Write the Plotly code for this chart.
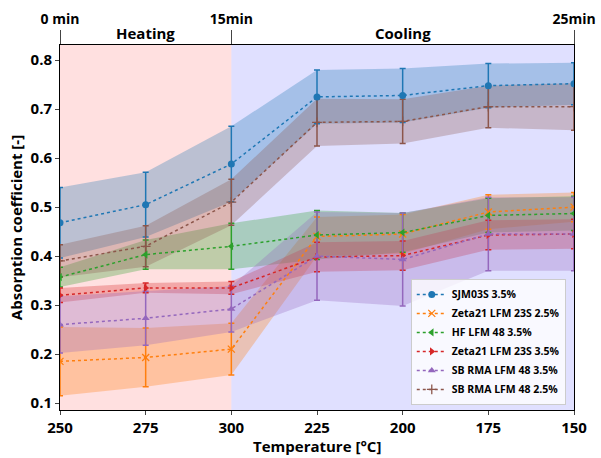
import plotly.graph_objects as go

temps = ["250", "275", "300", "225", "200", "175", "150"]
names = ["SJM03S 3.5%", "Zeta21 LFM 23S 2.5%", "HF LFM 48 3.5%",
         "Zeta21 LFM 23S 3.5%", "SB RMA LFM 48 3.5%", "SB RMA LFM 48 2.5%"]

sjm_mean = [0.468, 0.505, 0.588, 0.725, 0.728, 0.748, 0.752]
sjm_std = [0.072, 0.066, 0.077, 0.055, 0.055, 0.045, 0.043]
z25_mean = [0.185, 0.193, 0.210, 0.440, 0.445, 0.490, 0.500]
z25_std = [0.070, 0.060, 0.053, 0.040, 0.040, 0.035, 0.030]
hf_mean = [0.357, 0.403, 0.420, 0.443, 0.448, 0.483, 0.487]
hf_std = [0.020, 0.030, 0.047, 0.050, 0.040, 0.035, 0.035]
z35_mean = [0.320, 0.335, 0.335, 0.398, 0.401, 0.443, 0.445]
z35_std = [0.015, 0.010, 0.013, 0.030, 0.030, 0.030, 0.030]
sb35_mean = [0.260, 0.273, 0.292, 0.400, 0.393, 0.445, 0.445]
sb35_std = [0.058, 0.055, 0.047, 0.090, 0.095, 0.075, 0.075]
sb25_mean = [0.390, 0.420, 0.510, 0.673, 0.675, 0.705, 0.705]
sb25_std = [0.033, 0.042, 0.047, 0.048, 0.045, 0.043, 0.048]

top_ticks = ["0 min", "15min", "25min"]
phases = ["Heating", "Cooling"]

means = [sjm_mean, z25_mean, hf_mean, z35_mean, sb35_mean, sb25_mean]
stds = [sjm_std, z25_std, hf_std, z35_std, sb35_std, sb25_std]
colors = ["31,119,180", "255,127,14", "44,160,44", "214,39,40", "148,103,189", "140,86,75"]
symbols = ["circle", "x-thin", "triangle-left", "triangle-right", "triangle-up", "cross-thin"]

xs = list(range(len(temps)))
fig = go.Figure()

for m, s, c in zip(means, stds, colors):
    up = [a + b for a, b in zip(m, s)]
    lo = [a - b for a, b in zip(m, s)]
    fig.add_trace(go.Scatter(x=xs, y=up, mode="lines", line=dict(width=0),
                             showlegend=False, hoverinfo="skip"))
    fig.add_trace(go.Scatter(x=xs, y=lo, mode="lines", line=dict(width=0),
                             fill="tonexty", fillcolor=f"rgba({c},0.3)",
                             showlegend=False, hoverinfo="skip"))

for m, s, c in zip(means, stds, colors):
    fig.add_trace(go.Scatter(x=xs, y=m, mode="markers", showlegend=False,
                             marker=dict(size=1, opacity=0), hoverinfo="skip",
                             error_y=dict(type="data", array=s, color=f"rgb({c})",
                                          thickness=1.5, width=3)))

for m, c, sym, n in zip(means, colors, symbols, names):
    mk = dict(symbol=sym, size=7, color=f"rgb({c})")
    if "thin" in sym:
        mk["line"] = dict(color=f"rgb({c})", width=1.3)
    fig.add_trace(go.Scatter(x=xs, y=m, mode="lines+markers", name=n,
                             line=dict(color=f"rgb({c})", width=1.5, dash="dot"),
                             marker=mk))

fig.add_trace(go.Scatter(x=[0, 6], y=[0.5, 0.5], xaxis="x2", mode="markers",
                         marker=dict(opacity=0), showlegend=False, hoverinfo="skip"))

fig.add_shape(type="rect", xref="x", yref="paper", x0=0, x1=2, y0=0, y1=1,
              fillcolor="rgba(255,0,0,0.12)", line=dict(width=0), layer="below")
fig.add_shape(type="rect", xref="x", yref="paper", x0=2, x1=6, y0=0, y1=1,
              fillcolor="rgba(0,0,255,0.12)", line=dict(width=0), layer="below")

fig.update_layout(
    width=601, height=458,
    margin=dict(l=60, r=27, t=45, b=48),
    paper_bgcolor="white", plot_bgcolor="white",
    font=dict(family="Open Sans", size=14, color="black", weight="bold"),
    xaxis=dict(range=[0, 6], tickvals=xs, ticktext=temps, showline=True,
               linecolor="black", linewidth=1, mirror=False, ticks="outside",
               ticklen=4, showgrid=False, zeroline=False, automargin=False,
               tickfont=dict(size=15, weight="bold")),
    xaxis2=dict(range=[0, 6], overlaying="x", side="top", tickvals=[0, 2, 6],
                ticktext=top_ticks, showline=True, linecolor="black", linewidth=1,
                ticks="outside", ticklen=14, showgrid=False, zeroline=False,
                automargin=False, tickfont=dict(size=14, weight="bold")),
    yaxis=dict(range=[0.0857, 0.831], tickvals=[0.1, 0.2, 0.3, 0.4, 0.5, 0.6, 0.7, 0.8],
               ticktext=["0.1", "0.2", "0.3", "0.4", "0.5", "0.6", "0.7", "0.8"],
               showline=True, linecolor="black", linewidth=1, ticks="outside",
               ticklen=4, showgrid=False, zeroline=False, mirror=True, automargin=False,
               title=dict(text="Absorption coefficient [-]", font=dict(size=15, weight="bold"), standoff=4),
               tickfont=dict(size=15, weight="bold")),
    legend=dict(x=0.984, y=0.014, xanchor="right", yanchor="bottom", traceorder="normal",
                bgcolor="rgba(255,255,255,0.8)", bordercolor="#cccccc", borderwidth=1,
                font=dict(size=10.5, weight="bold"), itemwidth=30, tracegroupgap=0),
    annotations=[
        dict(text=phases[0], x=1, y=1.0, xref="x", yref="paper", yanchor="bottom",
             showarrow=False, font=dict(size=15, weight="bold"), yshift=0),
        dict(text=phases[1], x=4, y=1.0, xref="x", yref="paper", yanchor="bottom",
             showarrow=False, font=dict(size=15, weight="bold"), yshift=0),
        dict(text="Temperature [°C]", x=0.5, y=0.0, xref="paper", yref="paper",
             yanchor="top", showarrow=False, font=dict(size=15, weight="bold"), yshift=-24),
    ],
)

fig.write_html("out.html", config={"displayModeBar": False},
               post_script="document.body.style.margin='0';document.body.style.overflow='hidden';")
